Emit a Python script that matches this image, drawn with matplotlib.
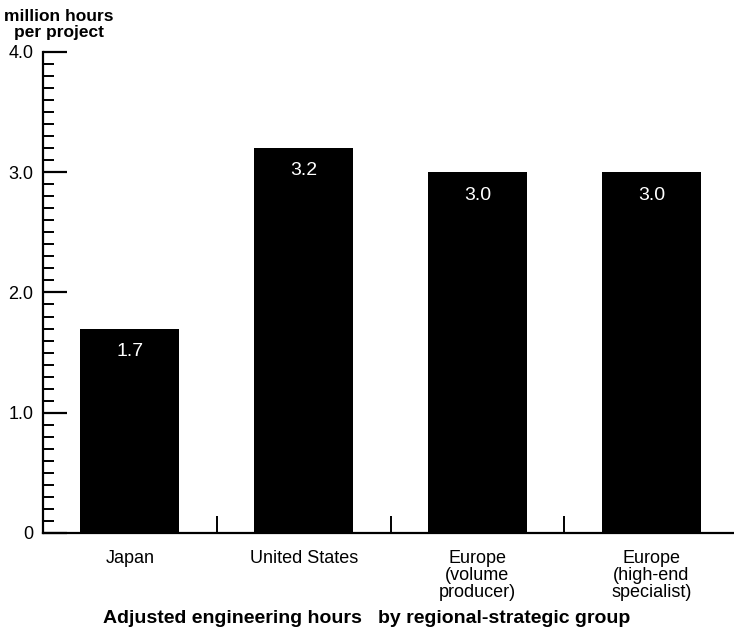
import matplotlib.pyplot as plt
from matplotlib.ticker import MultipleLocator, FixedLocator

plt.rcParams['font.family'] = ['Liberation Sans', 'DejaVu Sans']

groups = ['Japan', 'United States', 'Europe\n(volume\nproducer)', 'Europe\n(high-end\nspecialist)']
hours = [1.7, 3.2, 3.0, 3.0]
value_labels = ['1.7', '3.2', '3.0', '3.0']
y_ticks = [0, 1, 2, 3, 4]
y_tick_labels = ['0', '1.0', '2.0', '3.0', '4.0']

fig = plt.figure(figsize=(7.34, 6.33), dpi=100)
ax = fig.add_axes([0.0586, 0.158, 0.94, 0.76])

x = list(range(len(groups)))
ax.bar(x, hours, width=0.57, color='black')

# values printed in white inside the top of each bar
for xi, h, lab in zip(x, hours, value_labels):
    ax.text(xi, h - 0.19, lab, color='white', ha='center', va='center', fontsize=14)

ax.set_xlim(-0.5, 3.47)
ax.set_ylim(0, 4.0)

ax.spines['top'].set_visible(False)
ax.spines['right'].set_visible(False)
ax.spines['left'].set_linewidth(1.6)
ax.spines['bottom'].set_linewidth(1.6)

ax.yaxis.set_major_locator(FixedLocator(y_ticks))
ax.set_yticklabels(y_tick_labels, fontsize=13)
ax.yaxis.set_minor_locator(MultipleLocator(0.1))
ax.tick_params(axis='y', which='major', direction='in', length=17, width=1.6, pad=7)
ax.tick_params(axis='y', which='minor', direction='in', length=8, width=1.4)

# category labels without ticks, separator ticks between groups
ax.set_xticks(x)
ax.set_xticklabels(groups, fontsize=13, va='top', linespacing=1.02)
ax.tick_params(axis='x', which='major', length=0, pad=12)
ax.xaxis.set_minor_locator(FixedLocator([0.5, 1.5, 2.5]))
ax.tick_params(axis='x', which='minor', direction='in', length=12, width=1.4)

fig.text(0.08, 0.985, 'million hours\nper project', ha='center', va='top',
         fontsize=12.5, fontweight='bold', linespacing=1.05)
fig.text(0.5, 0.01, 'Adjusted engineering hours   by regional-strategic group',
         ha='center', va='bottom', fontsize=14, fontweight='bold')

fig.savefig('out.png', dpi=100)
